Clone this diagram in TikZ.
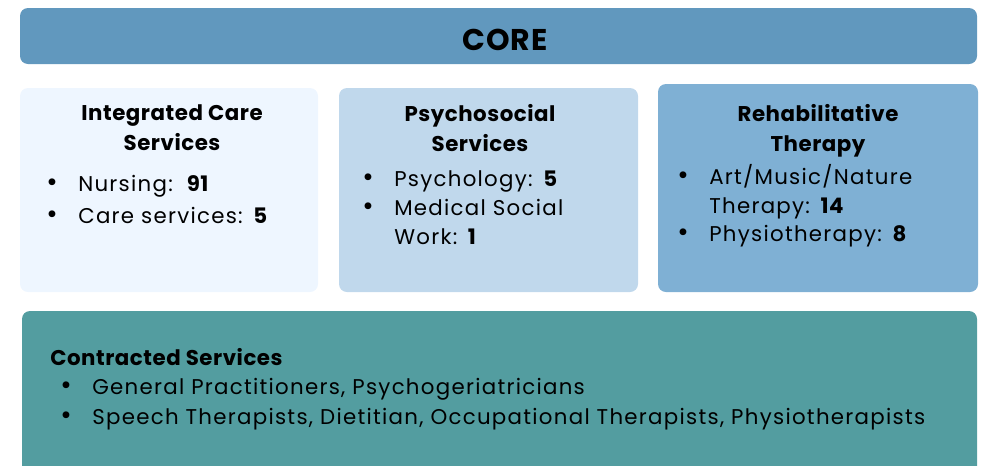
\documentclass[tikz,border=0pt]{standalone}
\usepackage{fontspec}
\setmainfont{Poppins}[LetterSpace=6, BoldFeatures={LetterSpace=2.5}]
\usetikzlibrary{positioning, fit}
\definecolor{coreblue}{RGB}{97,152,190}
\definecolor{icsblue}{RGB}{238,246,255}
\definecolor{psyblue}{RGB}{192,216,236}
\definecolor{rehblue}{RGB}{127,176,212}
\definecolor{contteal}{RGB}{83,157,160}
\tikzset{
    panel/.style={rectangle, rounded corners=6pt, inner sep=0pt, draw=none, fill=#1},
    head/.style={font=\fontsize{16}{22.5}\selectfont\bfseries, align=center, inner sep=0pt},
    lst/.style={font=\fontsize{16}{22.5}\selectfont, align=left, anchor=north west, inner sep=0pt}
}
\newcommand{\bul}{\makebox[24pt][l]{\scalebox{1.3}{\textbullet}}}
\newcommand{\ind}{\hspace*{24pt}}

\begin{document}
\begin{tikzpicture}[x=0.75pt, y=-0.75pt]
    \useasboundingbox (0,0) rectangle (982,465);
    % top bar
    \node[panel=coreblue, fit={(20,8) (977,64)}] (core) {};
    \node[font=\fontsize{22.5}{28}\selectfont\bfseries] (coretxt) at (505,40) {CORE};
    % three core columns
    \node[panel=icsblue, fit={(20,88) (318,292)}] (ics) {};
    \node[panel=psyblue, fit={(339,88) (638,292)}] (psy) {};
    \node[panel=rehblue, fit={(658,84) (978,292)}] (reh) {};
    \node[head] (icshead) at (172,128) {Integrated Care\\Services};
    \node[head] (psyhead) at (480,128) {Psychosocial\\Services};
    \node[head] (rehhead) at (818,131) {Rehabilitative\\Therapy};
    \node[lst] (icslist) at (46,175) {\bul Nursing:\ \ \textbf{91}\\[1.5pt]\bul Care services: \textbf{5}};
    \node[lst] (psylist) at (362,170) {\bul Psychology: \textbf{5}\\[-0.5pt]\bul Medical Social\\[-0.5pt]\ind Work: \textbf{1}};
    \node[lst] (rehlist) at (677,164) {\bul Art/Music/Nature\\[-1pt]\ind Therapy: \textbf{14}\\[-1pt]\bul Physiotherapy: \textbf{8}};
    % external partners
    \node[panel=contteal, fit={(22,311) (977,480)}] (cont) {};
    \node[head, anchor=north west] (conthead) at (50,348) {Contracted Services};
    \node[lst] (contlist) at (60,378) {\bul General Practitioners, Psychogeriatricians\\\bul Speech Therapists, Dietitian, Occupational Therapists, Physiotherapists};
\end{tikzpicture}
\end{document}
